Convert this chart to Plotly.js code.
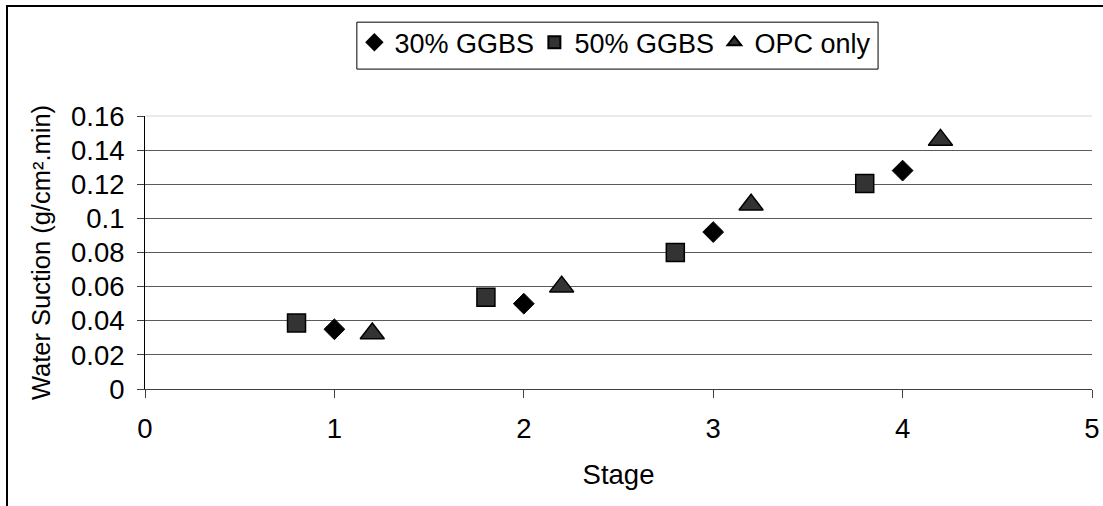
<!DOCTYPE html>
<html>
<head>
<meta charset="utf-8">
<script src="https://cdn.plot.ly/plotly-3.0.1.min.js"></script>
<style>
  html, body { margin: 0; padding: 0; background: #fff; overflow: hidden; }
  #chart { position: absolute; left: 0; top: 0; width: 1103px; height: 506px; }
  #frame { position: absolute; left: 6px; top: 5px; width: 1200px; height: 600px;
           border-left: 2px solid #000; border-top: 2px solid #000; pointer-events: none; }
</style>
</head>
<body>
<div id="chart"></div>
<div id="frame"></div>
<script>
// Series data
const seriesNames = ["30% GGBS", "50% GGBS", "OPC only"];
const stage30 = [1, 2, 3, 4];
const suction30 = [0.035, 0.050, 0.092, 0.128];
const stage50 = [0.8, 1.8, 2.8, 3.8];
const suction50 = [0.0387, 0.0537, 0.080, 0.1205];
const stageOPC = [1.2, 2.2, 3.2, 4.2];
const suctionOPC = [0.0325, 0.060, 0.108, 0.146];
const xTickVals = [0, 1, 2, 3, 4, 5];
const yTickVals = [0, 0.02, 0.04, 0.06, 0.08, 0.1, 0.12, 0.14, 0.16];
const yTickText = ["0", "0.02", "0.04", "0.06", "0.08", "0.1", "0.12", "0.14", "0.16"];

const FONT = "Liberation Sans, Arial, sans-serif";

const traces = [
  {
    x: stage30, y: suction30, name: seriesNames[0], type: "scatter", mode: "markers",
    marker: { symbol: "diamond", size: 16, color: "#000000", line: { color: "#000000", width: 1 } }
  },
  {
    x: stage50, y: suction50, name: seriesNames[1], type: "scatter", mode: "markers",
    marker: { symbol: "square", size: 18, color: "#333333", line: { color: "#000000", width: 1.5 } }
  },
  {
    x: stageOPC, y: suctionOPC, name: seriesNames[2], type: "scatter", mode: "markers",
    marker: { symbol: "triangle-up", size: 21, color: "#333333", line: { color: "#000000", width: 1.5 } }
  }
];

const layout = {
  width: 1103, height: 506,
  paper_bgcolor: "#ffffff", plot_bgcolor: "#ffffff",
  font: { family: FONT, size: 27, color: "#000000" },
  margin: { l: 144.5, r: 11, t: 116, b: 116.5, pad: 0 },
  showlegend: true,
  legend: {
    orientation: "h", x: 0.2211, xanchor: "left", y: 1.358, yanchor: "top",
    borderwidth: 0, bgcolor: "rgba(0,0,0,0)",
    font: { family: FONT, size: 27, color: "#000000" },
    itemsizing: "constant", traceorder: "normal",
    entrywidth: 135, entrywidthmode: "pixels"
  },
  xaxis: {
    range: [0, 5], tickmode: "array", tickvals: xTickVals,
    showgrid: false, zeroline: false,
    showline: true, linecolor: "#404040", linewidth: 1,
    ticks: "outside", ticklen: 8, tickcolor: "#404040", tickwidth: 1,
    ticklabelstandoff: 7,
    tickfont: { family: FONT, size: 27.5, color: "#000000" },
    title: { text: "Stage", font: { family: FONT, size: 27.5, color: "#000000" }, standoff: 21 }
  },
  yaxis: {
    range: [0, 0.16], tickmode: "array", tickvals: yTickVals, ticktext: yTickText,
    showgrid: true, gridcolor: "#5a5a5a", gridwidth: 1, zeroline: false,
    showline: true, linecolor: "#000000", linewidth: 1,
    ticks: "outside", ticklen: 7, tickcolor: "#404040", tickwidth: 1,
    ticklabelstandoff: 7,
    tickfont: { family: FONT, size: 27.5, color: "#000000" },
    title: { text: "Water Suction (g/cm\u00b2.min)", font: { family: FONT, size: 25.5, color: "#000000" }, standoff: 13 }
  },
  shapes: [
    { type: "line", xref: "paper", yref: "paper", x0: 0.001, x1: 1, y0: 1, y1: 1,
      line: { color: "#e4e4e4", width: 1.5 }, layer: "between" },
    { type: "rect", xref: "paper", yref: "paper", x0: 0.2237, x1: 0.7741, y0: 1.1718, y1: 1.3437,
      line: { color: "#000000", width: 1 }, fillcolor: "rgba(0,0,0,0)", layer: "above" }
  ]
};

Plotly.newPlot("chart", traces, layout, { displayModeBar: false, staticPlot: true });
</script>
</body>
</html>
